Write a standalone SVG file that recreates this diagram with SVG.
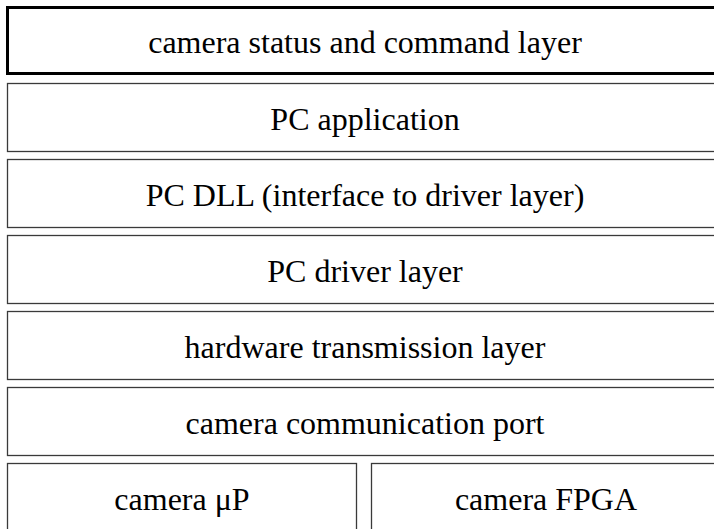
<svg xmlns="http://www.w3.org/2000/svg" width="714" height="529" viewBox="0 0 714 529">
<style>
.box{fill:#fff;stroke:#3a3a3a;stroke-width:1.3}
.thick{fill:#fff;stroke:#000;stroke-width:3}
.t{font-family:"Liberation Serif","Times New Roman",serif;font-size:32px;fill:#000;text-anchor:middle}
</style>
<rect x="0" y="0" width="714" height="529" fill="#fff"/>
<g id="status">
<rect class="thick" x="7.5" y="7.5" width="715" height="66"/>
<text class="t" x="365" y="53">camera status and command layer</text>
</g>
<g id="pcapp">
<rect class="box" x="7.5" y="83.5" width="715" height="68"/>
<text class="t" x="365" y="130">PC application</text>
</g>
<g id="pcdll">
<rect class="box" x="7.5" y="159.5" width="715" height="68"/>
<text class="t" x="365" y="206">PC DLL (interface to driver layer)</text>
</g>
<g id="pcdriver">
<rect class="box" x="7.5" y="235.5" width="715" height="68"/>
<text class="t" x="365" y="282">PC driver layer</text>
</g>
<g id="hw">
<rect class="box" x="7.5" y="311.5" width="715" height="68"/>
<text class="t" x="365" y="358">hardware transmission layer</text>
</g>
<g id="port">
<rect class="box" x="7.5" y="387.5" width="715" height="68"/>
<text class="t" x="365" y="434">camera communication port</text>
</g>
<g id="up">
<rect class="box" x="7.5" y="463.5" width="349" height="80"/>
<text class="t" x="182" y="510">camera μP</text>
</g>
<g id="fpga">
<rect class="box" x="371.5" y="463.5" width="350" height="80"/>
<text class="t" x="546" y="510">camera FPGA</text>
</g>
<g id="connectors"></g>
</svg>
